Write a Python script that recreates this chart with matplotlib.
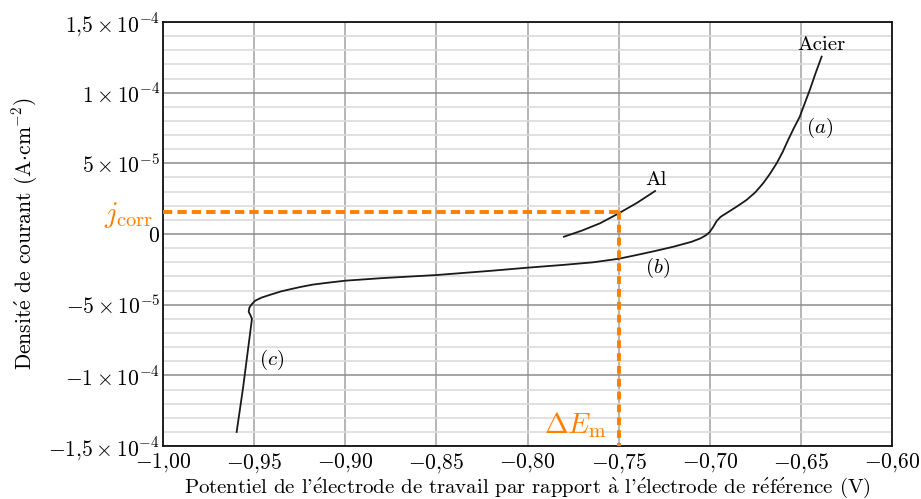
import matplotlib
matplotlib.use("Agg")
import matplotlib.pyplot as plt
import numpy as np

plt.rcParams['mathtext.fontset'] = 'cm'
plt.rcParams['font.family'] = ['cmr10', 'DejaVu Serif']
plt.rcParams['axes.unicode_minus'] = True

# Steel (Acier) polarisation curve: potential (V), current density (1e-5 A/cm2)
steel_E = [-0.9596, -0.9560, -0.9532, -0.9518, -0.9512, -0.9520, -0.9530, -0.9526,
           -0.9512, -0.9495, -0.9460, -0.9413, -0.9350, -0.9300, -0.9248, -0.9180,
           -0.9100, -0.9000, -0.8800, -0.8500, -0.8200, -0.8000, -0.7800, -0.7640,
           -0.7500, -0.7400, -0.7300, -0.7200, -0.7100, -0.7050, -0.7020, -0.7000,
           -0.6980, -0.6962, -0.6940, -0.6908, -0.6853, -0.6798, -0.6750, -0.6707,
           -0.6670, -0.6633, -0.6600, -0.6570, -0.6540, -0.6506, -0.6480, -0.6451,
           -0.6420, -0.6386]
steel_j = [-14.0, -10.8, -8.0, -6.6, -6.0, -5.75, -5.5, -5.2,
           -4.95, -4.72, -4.5, -4.3, -4.05, -3.9, -3.75, -3.58,
           -3.45, -3.3, -3.12, -2.9, -2.6, -2.38, -2.18, -2.0,
           -1.75, -1.48, -1.2, -0.9, -0.55, -0.3, -0.08, 0.15,
           0.52, 0.92, 1.22, 1.48, 1.93, 2.41, 2.95, 3.59,
           4.25, 5.0, 5.8, 6.65, 7.45, 8.3, 9.2, 10.19,
           11.35, 12.55]
steel_j = [v * 1e-5 for v in steel_j]

# Aluminium curve
al_E = [-0.7800, -0.7700, -0.7602, -0.7500, -0.7400, -0.7300]
al_j = [-0.19, 0.25, 0.76, 1.46, 2.2, 3.04]
al_j = [v * 1e-5 for v in al_j]

j_corr = 1.55e-5
dE_m = -0.75

xticks = [-1.00, -0.95, -0.90, -0.85, -0.80, -0.75, -0.70, -0.65, -0.60]
xticklabels = [r'$-1{,}00$', r'$-0{,}95$', r'$-0{,}90$', r'$-0{,}85$', r'$-0{,}80$',
               r'$-0{,}75$', r'$-0{,}70$', r'$-0{,}65$', r'$-0{,}60$']
yticks = [-1.5e-4, -1e-4, -5e-5, 0, 5e-5, 1e-4, 1.5e-4]
yticklabels = [r'$-1{,}5\times10^{-4}$', r'$-1\times10^{-4}$', r'$-5\times10^{-5}$',
               r'$0$', r'$5\times10^{-5}$', r'$1\times10^{-4}$', r'$1{,}5\times10^{-4}$']

e_acute = r'$\acute{\mathrm{e}}$'
a_grave = r'$\grave{\mathrm{a}}$'
xlabel = ("Potentiel de l'" + e_acute + "lectrode de travail par rapport " + a_grave +
          " l'" + e_acute + "lectrode de r" + e_acute + "f" + e_acute + "rence (V)")
ylabel = 'Densit' + e_acute + r' de courant (A$\cdot$cm$^{-2}$)'

orange = '#ff8000'

fig = plt.figure(figsize=(9.21, 4.99), dpi=100)
ax = fig.add_axes([0.177, 0.106, 0.7915, 0.850])
ax.set_xlim(-1.0, -0.6)
ax.set_ylim(-1.5e-4, 1.5e-4)

# grid
ax.set_yticks(np.arange(-15, 15.5, 1) * 1e-5, minor=True)
ax.grid(which='minor', axis='y', color='#dcdcdc', lw=1.2, zorder=0)
ax.grid(which='major', axis='y', color='#8c8c8c', lw=1.1, zorder=0)
ax.grid(which='major', axis='x', color='#b0b0b0', lw=1.3, zorder=0)
ax.set_axisbelow(True)

ax.set_xticks(xticks)
ax.set_xticklabels(xticklabels)
ax.set_yticks(yticks)
ax.set_yticklabels(yticklabels)
ax.tick_params(which='both', length=0, labelsize=15.5)
ax.tick_params(axis='y', pad=2)
ax.tick_params(axis='x', pad=4)
for s in ax.spines.values():
    s.set_linewidth(1.3)
    s.set_color('#111111')

ax.plot(steel_E, steel_j, color='#1a1a1a', lw=1.3, zorder=3, solid_joinstyle='round')
ax.plot(al_E, al_j, color='#1a1a1a', lw=1.3, zorder=3, solid_joinstyle='round')

# dashed construction lines
ax.plot([-1.0, dE_m], [j_corr, j_corr], color=orange, lw=2.8, dashes=(2.4, 1.3), zorder=4,
        clip_on=False)
ax.plot([dE_m, dE_m], [j_corr, -1.5e-4], color=orange, lw=2.8, dashes=(2.0, 1.3), zorder=4,
        clip_on=False)

ax.text(-1.0055, 0.85e-5, r'$j_{\mathrm{corr}}$', color=orange, fontsize=21,
        ha='right', va='baseline', clip_on=False)
ax.text(-0.7567, -1.35e-4, r'$\Delta E_{\mathrm{m}}$', color=orange, fontsize=20.5,
        ha='right', va='center')

ax.text(-0.6385, 1.34e-4, 'Acier', fontsize=15, ha='center', va='center')
ax.text(-0.7295, 3.85e-5, 'Al', fontsize=15, ha='center', va='center')
ax.text(-0.6395, 7.5e-5, r'$(a)$', fontsize=15, ha='center', va='center')
ax.text(-0.7286, -2.4e-5, r'$(b)$', fontsize=15, ha='center', va='center')
ax.text(-0.9405, -8.9e-5, r'$(c)$', fontsize=15, ha='center', va='center')

ax.set_xlabel(xlabel, fontsize=15, labelpad=0)
ax.set_ylabel(ylabel, fontsize=15.5, labelpad=6)

fig.savefig('out.png', dpi=100)
